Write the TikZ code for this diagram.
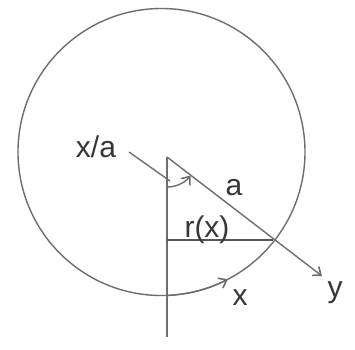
\documentclass[tikz,border=0pt]{standalone}
\usepackage{fontspec}
\setmainfont{Liberation Sans}
\usetikzlibrary{arrows.meta}
\definecolor{linegray}{RGB}{110,110,110}
\definecolor{darkline}{RGB}{85,85,85}
\definecolor{txtgray}{RGB}{55,55,55}
\tikzset{
  thin line/.style={draw=linegray, line width=1.4pt},
  thick line/.style={draw=darkline, line width=2.6pt},
  barb/.style={-{Straight Barb[length=7pt,width=11pt,line width=1.6pt]}},
  lbl/.style={anchor=base, inner sep=0pt, text=txtgray, font=\fontsize{30}{36}\selectfont}
}
\begin{document}
\begin{tikzpicture}[x=1pt,y=-1pt]
\useasboundingbox[fill=white] (0,0) rectangle (355,349);
% key points
\coordinate (O) at (161.5,152);
\coordinate (C) at (167,157);
\coordinate (P) at (273,240);
\coordinate (H) at (167,240);
\coordinate (Y) at (322,276);
\coordinate (V) at (167,337);
\coordinate (Ps) at (129,152);
\coordinate (Pe) at (170,181);
% circle
\draw[thin line] (O) circle[radius=143.5];
% vertical axis
\draw[thin line] (C) -- (V);
% radius line to y
\draw[thin line, barb] (C) -- (Y);
% r(x)
\draw[thick line] (H) -- (P);
% angle arc
\draw[thin line, barb] ([shift={(90:30)}]C) arc[start angle=90, end angle=38, radius=30];
% pointer from x/a
\draw[thin line] (Ps) -- (Pe);
% arc-length arrow along circle
\draw[thin line, barb] ([shift={(87.8:143.5)}]O) arc[start angle=87.8, end angle=62.5, radius=143.5];
% labels
\node[lbl] (xa) at (96,157) {x/a};
\node[lbl] (a) at (234,195) {a};
\node[lbl] (rx) at (207,237) {r(x)};
\node[lbl] (x) at (240,305) {x};
\node[lbl] (y) at (335,297) {y};
\end{tikzpicture}
\end{document}
